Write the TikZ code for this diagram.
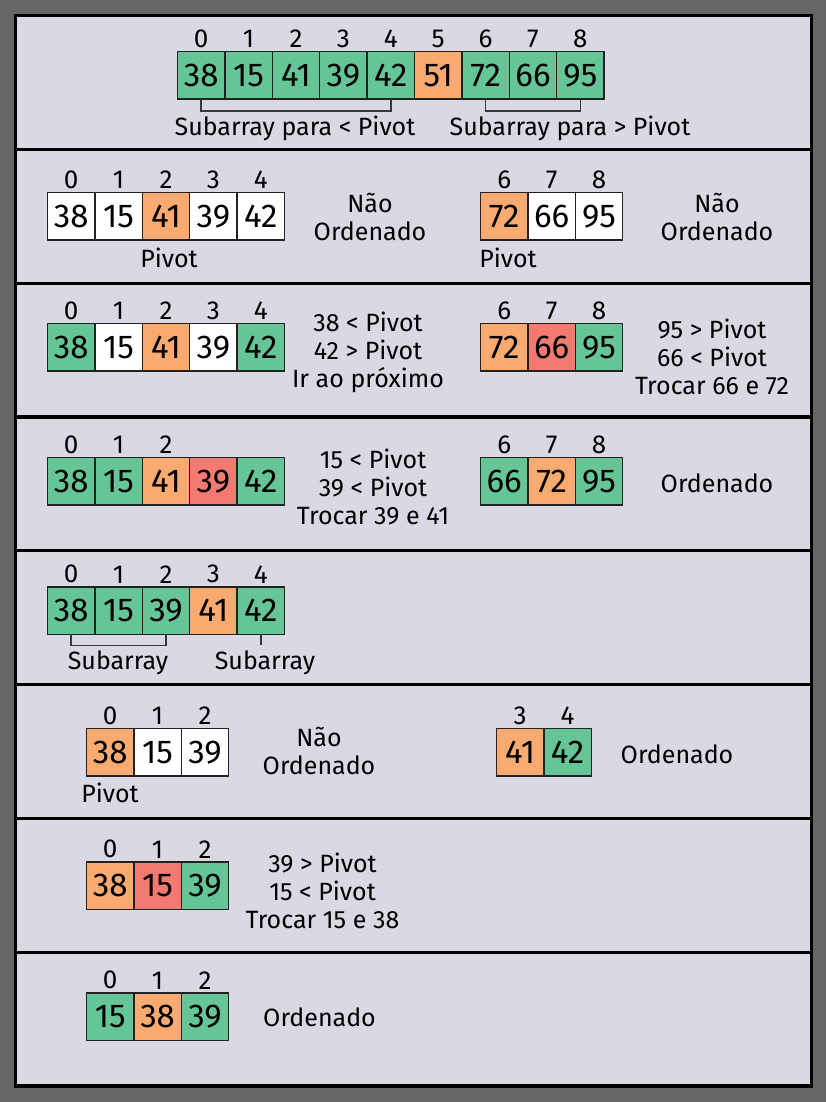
\documentclass[tikz,border=0pt]{standalone}
\usepackage{fontspec}
\setmainfont{Fira Sans}
\usetikzlibrary{positioning}
\definecolor{qsback}{HTML}{666666}
\definecolor{qspanel}{HTML}{DAD8E2}
\definecolor{qsgreen}{HTML}{66C597}
\definecolor{qsorange}{HTML}{F9AA70}
\definecolor{qsred}{HTML}{F27A70}
\definecolor{qsline}{HTML}{222222}
\tikzset{
    qs/.style={
        x=0.5pt,y=-0.5pt,
        cell/.style={draw=qsline,line width=0.75pt,minimum size=23.7pt,inner sep=0pt,outer sep=0pt,font=\fontsize{16.5}{16.5}\selectfont},
        first/.style={cell,anchor=north west},
        sorted/.style={fill=qsgreen},
        pivot/.style={fill=qsorange},
        wrong/.style={fill=qsred},
        unsorted/.style={fill=white},
        idx/.style={font=\fontsize{13}{13}\selectfont,inner sep=1.8pt},
        note/.style={font=\fontsize{12.5}{14}\selectfont,align=center,inner sep=0pt},
        bracket/.style={draw=qsline!90,line width=0.75pt},
        every label/.style={idx}
    }
}

\begin{document}
\begin{tikzpicture}[qs]
    \fill[qsback] (0,0) rectangle (826,1102);
    \filldraw[fill=qspanel,draw=black,line width=1.6pt] (15.7,15.7) rectangle (811.3,1086);
    \draw[line width=1.6pt] (15.7,149.3) -- (811.3,149.3) (15.7,283.1) -- (811.3,283.1)
        (15.7,416.9) -- (811.3,416.9) (15.7,550.7) -- (811.3,550.7)
        (15.7,684.5) -- (811.3,684.5) (15.7,818.3) -- (811.3,818.3)
        (15.7,952.1) -- (811.3,952.1);
    % full array
    \node[first,sorted,label=above:0] (a0) at (177.5,51.5) {38};
    \node[cell,sorted,label=above:1,right=0pt of a0] (a1) {15};
    \node[cell,sorted,label=above:2,right=0pt of a1] (a2) {41};
    \node[cell,sorted,label=above:3,right=0pt of a2] (a3) {39};
    \node[cell,sorted,label=above:4,right=0pt of a3] (a4) {42};
    \node[cell,pivot,label=above:5,right=0pt of a4] (a5) {51};
    \node[cell,sorted,label=above:6,right=0pt of a5] (a6) {72};
    \node[cell,sorted,label=above:7,right=0pt of a6] (a7) {66};
    \node[cell,sorted,label=above:8,right=0pt of a7] (a8) {95};
    \draw[bracket] (a0.south) -- ++(0,12) -| (a4.south);
    \draw[bracket] (a6.south) -- ++(0,12) -| (a8.south);
    \node[note] (alow) at (295,128) {Subarray para < Pivot};
    \node[note] (ahigh) at (570,128) {Subarray para > Pivot};
    % left part, step 1
    \node[first,unsorted,label=above:0] (b0) at (47.5,192.5) {38};
    \node[cell,unsorted,label=above:1,right=0pt of b0] (b1) {15};
    \node[cell,pivot,label=above:2,right=0pt of b1] (b2) {41};
    \node[cell,unsorted,label=above:3,right=0pt of b2] (b3) {39};
    \node[cell,unsorted,label=above:4,right=0pt of b3] (b4) {42};
    \node[note] (bpiv) at (169,258) {Pivot};
    \node[note] (bstate) at (370,217) {Não\\Ordenado};
    % right part, step 1
    \node[first,pivot,label=above:6] (c0) at (480.5,192.5) {72};
    \node[cell,unsorted,label=above:7,right=0pt of c0] (c1) {66};
    \node[cell,unsorted,label=above:8,right=0pt of c1] (c2) {95};
    \node[note] (cpiv) at (508,258) {Pivot};
    \node[note] (cstate) at (717,217) {Não\\Ordenado};
    % left part, step 2
    \node[first,sorted,label=above:0] (d0) at (47.5,323.5) {38};
    \node[cell,unsorted,label=above:1,right=0pt of d0] (d1) {15};
    \node[cell,pivot,label=above:2,right=0pt of d1] (d2) {41};
    \node[cell,unsorted,label=above:3,right=0pt of d2] (d3) {39};
    \node[cell,sorted,label=above:4,right=0pt of d3] (d4) {42};
    \node[note] (dstate) at (368,352.5) {38 < Pivot\\42 > Pivot\\Ir ao próximo};
    % right part, step 2
    \node[first,pivot,label=above:6] (e0) at (480.5,323.5) {72};
    \node[cell,wrong,label=above:7,right=0pt of e0] (e1) {66};
    \node[cell,sorted,label=above:8,right=0pt of e1] (e2) {95};
    \node[note] (estate) at (712,356.7) {95 > Pivot\\66 < Pivot\\Trocar 66 e 72};
    % left part, step 3
    \node[first,sorted,label=above:0] (f0) at (47.5,457.5) {38};
    \node[cell,sorted,label=above:1,right=0pt of f0] (f1) {15};
    \node[cell,pivot,label=above:2,right=0pt of f1] (f2) {41};
    \node[cell,wrong,right=0pt of f2] (f3) {39};
    \node[cell,sorted,right=0pt of f3] (f4) {42};
    \node[note] (fstate) at (373,487) {15 < Pivot\\39 < Pivot\\Trocar 39 e 41};
    % right part, step 3
    \node[first,sorted,label=above:6] (g0) at (480.5,457.5) {66};
    \node[cell,pivot,label=above:7,right=0pt of g0] (g1) {72};
    \node[cell,sorted,label=above:8,right=0pt of g1] (g2) {95};
    \node[note] (gstate) at (717,483) {Ordenado};
    % split left part
    \node[first,sorted,label=above:0] (h0) at (47.5,587) {38};
    \node[cell,sorted,label=above:1,right=0pt of h0] (h1) {15};
    \node[cell,sorted,label=above:2,right=0pt of h1] (h2) {39};
    \node[cell,pivot,label=above:3,right=0pt of h2] (h3) {41};
    \node[cell,sorted,label=above:4,right=0pt of h3] (h4) {42};
    \draw[bracket] (h0.south) -- ++(0,11) -| (h2.south);
    \draw[bracket] (h4.south) -- ++(0,11);
    \node[note] (hlow) at (118,663) {Subarray};
    \node[note] (hhigh) at (265,663) {Subarray};
    % sub left, step 1
    \node[first,pivot,label=above:0] (i0) at (86.5,728.5) {38};
    \node[cell,unsorted,label=above:1,right=0pt of i0] (i1) {15};
    \node[cell,unsorted,label=above:2,right=0pt of i1] (i2) {39};
    \node[note] (ipiv) at (110,793) {Pivot};
    \node[note] (istate) at (319,751) {Não\\Ordenado};
    % sub right
    \node[first,pivot,label=above:3] (j0) at (496.5,728.5) {41};
    \node[cell,sorted,label=above:4,right=0pt of j0] (j1) {42};
    \node[note] (jstate) at (677,754) {Ordenado};
    % sub left, step 2
    \node[first,pivot,label=above:0] (k0) at (86.5,862) {38};
    \node[cell,wrong,label=above:1,right=0pt of k0] (k1) {15};
    \node[cell,sorted,label=above:2,right=0pt of k1] (k2) {39};
    \node[note] (kstate) at (322.5,891) {39 > Pivot\\15 < Pivot\\Trocar 15 e 38};
    % sub left, step 3
    \node[first,sorted,label=above:0] (l0) at (86.5,993) {15};
    \node[cell,pivot,label=above:1,right=0pt of l0] (l1) {38};
    \node[cell,sorted,label=above:2,right=0pt of l1] (l2) {39};
    \node[note] (lstate) at (319.5,1017.5) {Ordenado};
\end{tikzpicture}
\end{document}
